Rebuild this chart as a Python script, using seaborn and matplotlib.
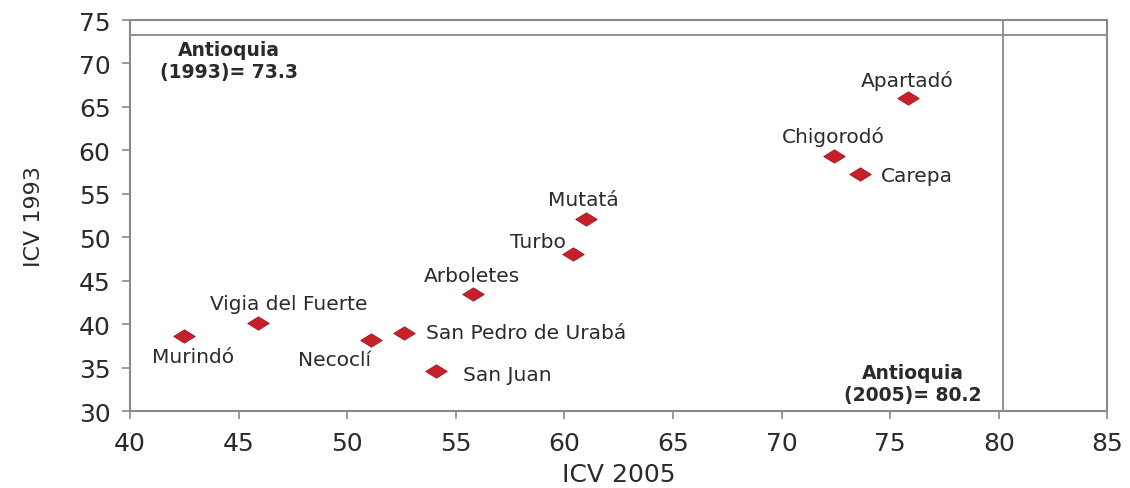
import matplotlib
matplotlib.use("Agg")
import matplotlib.pyplot as plt
import seaborn as sns
import pandas as pd

municipios = ["Murindó", "Vigia del Fuerte", "Necoclí", "San Pedro de Urabá", "San Juan",
              "Arboletes", "Turbo", "Mutatá", "Chigorodó", "Carepa", "Apartadó"]
icv_2005 = [42.5, 45.9, 51.1, 52.6, 54.1, 55.8, 60.4, 61.0, 72.4, 73.6, 75.8]
icv_1993 = [38.7, 40.1, 38.2, 39.0, 34.6, 43.5, 48.1, 52.1, 59.4, 57.3, 66.0]
antioquia_1993 = 73.3
antioquia_2005 = 80.2

# label placement: (dx, dy) in points, horizontal alignment
label_pos = {
    "Murindó": (6, -15, "center"),
    "Vigia del Fuerte": (22, 14, "center"),
    "Necoclí": (0, -14, "right"),
    "San Pedro de Urabá": (16, 0, "left"),
    "San Juan": (19, -2, "left"),
    "Arboletes": (-1, 13, "center"),
    "Turbo": (-5, 9, "right"),
    "Mutatá": (-2, 14, "center"),
    "Chigorodó": (0, 14, "center"),
    "Carepa": (15, -1, "left"),
    "Apartadó": (0, 13, "center"),
}

df = pd.DataFrame({"municipio": municipios, "x": icv_2005, "y": icv_1993})

sns.set_style("white")
plt.rcParams["font.family"] = ["DejaVu Sans"]

fig = plt.figure(figsize=(11.3, 4.89), dpi=100)
ax = fig.add_axes([0.115, 0.157, 0.865, 0.8])

diamond = [(-1, 0), (0, 0.62), (1, 0), (0, -0.62), (-1, 0)]
sns.scatterplot(data=df, x="x", y="y", marker=diamond, s=240, color="#c8202a",
                edgecolor="#a0181f", linewidth=0.6, ax=ax, zorder=3)

for name, xv, yv in zip(municipios, icv_2005, icv_1993):
    dx, dy, ha = label_pos[name]
    ax.annotate(name, (xv, yv), xytext=(dx, dy), textcoords="offset points",
                ha=ha, va="center", fontsize=14.5, color="#2a2a2a")

ax.axhline(antioquia_1993, color="#8a8a8a", lw=1.3, zorder=1)
ax.axvline(antioquia_2005, color="#8a8a8a", lw=1.3, zorder=1)

ax.text(44.56, 70.3, f"Antioquia\n(1993)= {antioquia_1993}", ha="center", va="center",
        fontsize=13.5, fontweight="bold", color="#2a2a2a", linespacing=1.2)
ax.text(76.04, 33.2, f"Antioquia\n(2005)= {antioquia_2005}", ha="center", va="center",
        fontsize=13.5, fontweight="bold", color="#2a2a2a", linespacing=1.2)

ax.set_xlim(40, 85)
ax.set_ylim(30, 75)
ax.set_xticks(range(40, 86, 5))
ax.set_yticks(range(30, 76, 5))
ax.tick_params(axis="both", labelsize=18, colors="#8a8a8a", labelcolor="#2a2a2a",
               direction="out", length=6, width=1.2, pad=8, bottom=True, left=True)
ax.tick_params(axis="x", pad=8)
for sp in ax.spines.values():
    sp.set_color("#8a8a8a")
    sp.set_linewidth(1.5)

ax.set_xlabel("ICV 2005", fontsize=18, color="#2a2a2a", labelpad=5)
ax.set_ylabel("ICV 1993", fontsize=16, color="#2a2a2a", labelpad=25)

fig.savefig("out.png", dpi=100)
